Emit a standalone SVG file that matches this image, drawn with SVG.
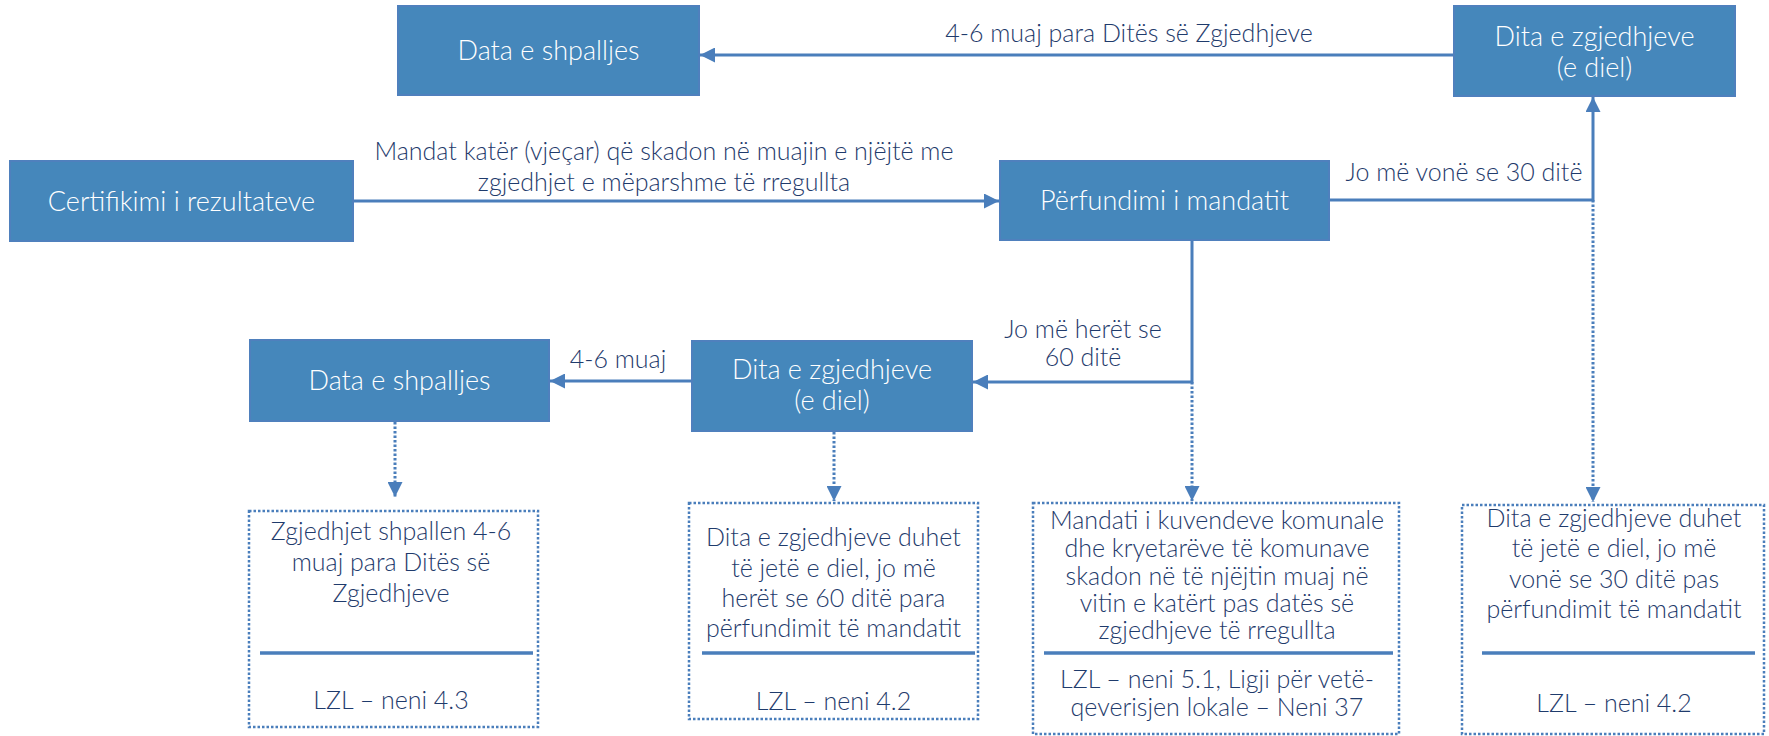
<svg xmlns="http://www.w3.org/2000/svg" width="1769" height="736" viewBox="0 0 1769 736">
<defs>
<style>
.box{fill:#4587bb;stroke:#4f80bd;stroke-width:2}
.bt{font-family:Lato,"Open Sans",sans-serif;font-weight:300;font-size:27px;fill:#ffffff;text-anchor:middle}
.lbl{font-family:Lato,"Open Sans",sans-serif;font-weight:300;font-size:25px;fill:#1f3b6c;text-anchor:middle}
.dt{font-family:Lato,"Open Sans",sans-serif;font-weight:300;font-size:25px;fill:#1f3b6c;text-anchor:middle}
.dbox{fill:#ffffff;stroke:#4a7ebb;stroke-width:2.5;stroke-dasharray:2.5 2}
.sep{stroke:#4a7ebb;stroke-width:3.5}
.solid{fill:none;stroke:#4a7ebb;stroke-width:3}
.dotted{fill:none;stroke:#4a7ebb;stroke-width:3;stroke-dasharray:2.5 2}
</style>
<marker id="ah" viewBox="0 0 10 10" refX="10" refY="5" markerWidth="15" markerHeight="15" markerUnits="userSpaceOnUse" orient="auto">
<path d="M0,0 L10,5 L0,10 z" fill="#4a7ebb"/>
</marker>
</defs>
<rect width="1769" height="736" fill="#ffffff"/>

<g id="connectors">
<line class="solid" x1="1454" y1="55" x2="700" y2="55" marker-end="url(#ah)"/>
<line class="solid" x1="353" y1="201" x2="999" y2="201" marker-end="url(#ah)"/>
<polyline class="solid" points="1329,200 1593,200 1593,97" marker-end="url(#ah)"/>
<polyline class="solid" points="1192,240 1192,382 973,382" marker-end="url(#ah)"/>
<line class="solid" x1="692" y1="381" x2="550" y2="381" marker-end="url(#ah)"/>
<line class="dotted" x1="395" y1="422" x2="395" y2="497" marker-end="url(#ah)"/>
<line class="dotted" x1="834" y1="432" x2="834" y2="501" marker-end="url(#ah)"/>
<line class="dotted" x1="1192" y1="382" x2="1192" y2="501" marker-end="url(#ah)"/>
<line class="dotted" x1="1593" y1="200" x2="1593" y2="502" marker-end="url(#ah)"/>
<text class="lbl" x="1129" y="42">4-6 muaj para Ditës së Zgjedhjeve</text>
<text class="lbl" x="664" y="160">Mandat katër (vjeçar) që skadon në muajin e njëjtë me</text>
<text class="lbl" x="664" y="191">zgjedhjet e mëparshme të rregullta</text>
<text class="lbl" x="1464" y="181">Jo më vonë se 30 ditë</text>
<text class="lbl" x="1083" y="338">Jo më herët se</text>
<text class="lbl" x="1083" y="366">60 ditë</text>
<text class="lbl" x="618" y="368">4-6 muaj</text>
</g>

<g id="data-shpalljes-top">
<rect class="box" x="398" y="6" width="301" height="89"/>
<text class="bt" x="548.5" y="60">Data e shpalljes</text>
</g>

<g id="dita-zgjedhjeve-top">
<rect class="box" x="1454" y="6" width="281" height="90"/>
<text class="bt" x="1594.5" y="46">Dita e zgjedhjeve</text>
<text class="bt" x="1594.5" y="77">(e diel)</text>
</g>

<g id="certifikimi">
<rect class="box" x="10" y="161" width="343" height="80"/>
<text class="bt" x="181.5" y="211">Certifikimi i rezultateve</text>
</g>

<g id="perfundimi">
<rect class="box" x="1000" y="161" width="329" height="79"/>
<text class="bt" x="1164.5" y="210">Përfundimi i mandatit</text>
</g>

<g id="data-shpalljes-bottom">
<rect class="box" x="250" y="340" width="299" height="81"/>
<text class="bt" x="399.5" y="390">Data e shpalljes</text>
</g>

<g id="dita-zgjedhjeve-mid">
<rect class="box" x="692" y="341" width="280" height="90"/>
<text class="bt" x="832" y="379">Dita e zgjedhjeve</text>
<text class="bt" x="832" y="410">(e diel)</text>
</g>

<g id="note-1">
<rect class="dbox" x="249" y="511" width="289" height="216"/>
<text class="dt" x="391" y="540">Zgjedhjet shpallen 4-6</text>
<text class="dt" x="391" y="571">muaj para Ditës së</text>
<text class="dt" x="391" y="602">Zgjedhjeve</text>
<line class="sep" x1="260" y1="653" x2="533" y2="653"/>
<text class="dt" x="391" y="709">LZL – neni 4.3</text>
</g>

<g id="note-2">
<rect class="dbox" x="689" y="503" width="289" height="216"/>
<text class="dt" x="833.5" y="546">Dita e zgjedhjeve duhet</text>
<text class="dt" x="833.5" y="577">të jetë e diel, jo më</text>
<text class="dt" x="833.5" y="607">herët se 60 ditë para</text>
<text class="dt" x="833.5" y="637">përfundimit të mandatit</text>
<line class="sep" x1="702" y1="653" x2="975" y2="653"/>
<text class="dt" x="833.5" y="710">LZL – neni 4.2</text>
</g>

<g id="note-3">
<rect class="dbox" x="1033" y="503" width="366" height="231"/>
<text class="dt" x="1217" y="529">Mandati i kuvendeve komunale</text>
<text class="dt" x="1217" y="557">dhe kryetarëve të komunave</text>
<text class="dt" x="1217" y="585">skadon në të njëjtin muaj në</text>
<text class="dt" x="1217" y="612">vitin e katërt pas datës së</text>
<text class="dt" x="1217" y="639">zgjedhjeve të rregullta</text>
<line class="sep" x1="1044" y1="653" x2="1393" y2="653"/>
<text class="dt" x="1217" y="688">LZL – neni 5.1, Ligji për vetë-</text>
<text class="dt" x="1217" y="716">qeverisjen lokale – Neni 37</text>
</g>

<g id="note-4">
<rect class="dbox" x="1462" y="505" width="302" height="229"/>
<text class="dt" x="1614" y="527">Dita e zgjedhjeve duhet</text>
<text class="dt" x="1614" y="557">të jetë e diel, jo më</text>
<text class="dt" x="1614" y="588">vonë se 30 ditë pas</text>
<text class="dt" x="1614" y="618">përfundimit të mandatit</text>
<line class="sep" x1="1482" y1="653" x2="1755" y2="653"/>
<text class="dt" x="1614" y="712">LZL – neni 4.2</text>
</g>
</svg>
